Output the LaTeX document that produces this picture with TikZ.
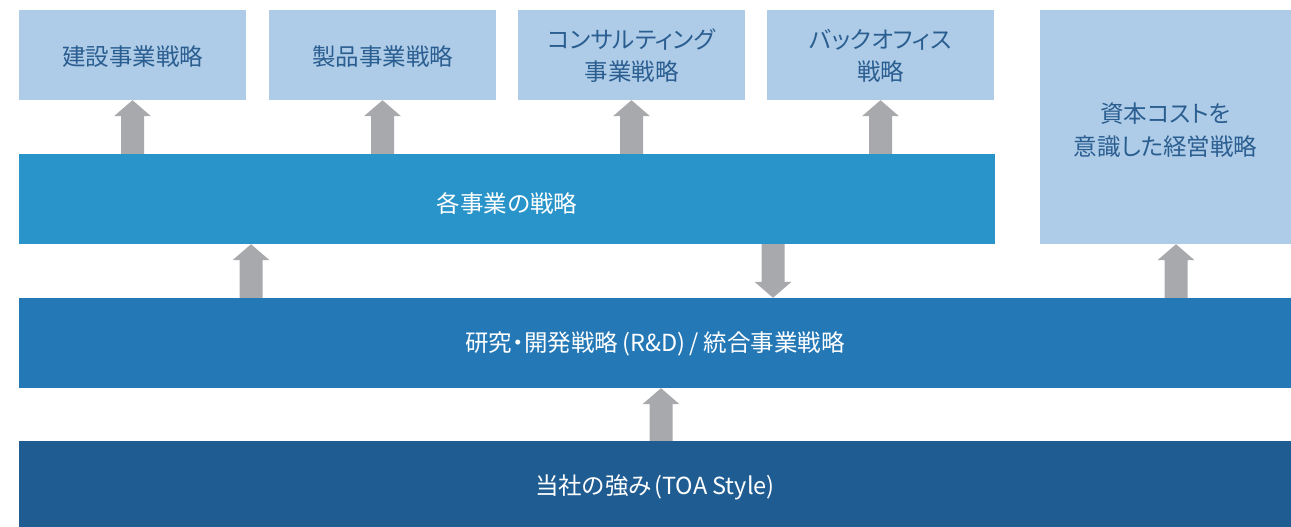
\documentclass[tikz,border=0pt]{standalone}
\usepackage{fontspec}
\setmainfont{Noto Sans CJK JP}[RawFeature=+palt]
\usetikzlibrary{calc}
\definecolor{lightbox}{HTML}{AECCE8}
\definecolor{boxtext}{HTML}{2B5E90}
\definecolor{barA}{HTML}{2894C9}
\definecolor{barB}{HTML}{2478B6}
\definecolor{barC}{HTML}{1F5C92}
\definecolor{arrgray}{HTML}{A8A9AD}
\tikzset{
  lbox/.style={rectangle, fill=lightbox, inner sep=0pt, minimum width=227pt, minimum height=90pt},
  bar/.style={rectangle, inner sep=0pt, minimum height=90pt},
  ltext/.style={text=boxtext, inner sep=0pt, align=center, font=\fontsize{23.5}{32}\selectfont},
  wtext/.style={text=white, inner sep=0pt, align=center, font=\fontsize{23.5}{32}\selectfont},
  arrowfill/.style={fill=arrgray}
}
\newcommand\arrowup[3]{%
  \fill[arrowfill] let \p1=(#2.north), \p2=(#3.south) in
    (#1pt-11.5pt,\y1) -- (#1pt-11.5pt,\y2-16pt) -- (#1pt-18.5pt,\y2-16pt) -- (#1pt,\y2)
    -- (#1pt+18.5pt,\y2-16pt) -- (#1pt+11.5pt,\y2-16pt) -- (#1pt+11.5pt,\y1) -- cycle;}
\newcommand\arrowdown[3]{%
  \fill[arrowfill] let \p1=(#2.south), \p2=(#3.north) in
    (#1pt-11.5pt,\y1) -- (#1pt-11.5pt,\y2+16pt) -- (#1pt-18.5pt,\y2+16pt) -- (#1pt,\y2)
    -- (#1pt+18.5pt,\y2+16pt) -- (#1pt+11.5pt,\y2+16pt) -- (#1pt+11.5pt,\y1) -- cycle;}
\begin{document}
\begin{tikzpicture}[x=1pt,y=-1pt]
\useasboundingbox (0,0) rectangle (1291,527);
% top boxes
\node[lbox, label={[name=b1t, ltext, yshift=-2pt]center:建設事業戦略}] (b1) at (132.5,55) {};
\node[lbox, label={[name=b2t, ltext, yshift=-2pt]center:製品事業戦略}] (b2) at (382.5,55) {};
\node[lbox, label={[name=b3t, ltext, yshift=-1pt]center:コンサルティング\\事業戦略}] (b3) at (631.5,55) {};
\node[lbox, label={[name=b4t, ltext, yshift=-1pt]center:バックオフィス\\戦略}] (b4) at (880.5,55) {};
\node[lbox, minimum width=251pt, minimum height=234pt,
  label={[name=capt, ltext, font=\fontsize{23.5}{33.5}\selectfont, yshift=-3pt]center:資本コストを\\意識した経営戦略}] (cap) at (1165.5,127) {};
% bars
\node[bar, fill=barA, minimum width=976pt, label={[name=eacht, wtext, yshift=-4.5pt]center:各事業の戦略}] (each) at (507,199) {};
\node[bar, fill=barB, minimum width=1272pt, label={[name=rdt, wtext, yshift=-1pt]center:研究・開発戦略\hspace{4pt}(R\&D)\hspace{4pt}/ 統合事業戦略}] (rd) at (655,343) {};
\node[bar, fill=barC, minimum width=1272pt, minimum height=86pt, label={[name=toat, wtext, yshift=-3pt]center:当社の強み\hspace{3pt}(TOA Style)}] (toa) at (655,484) {};
% arrows
\arrowup{132.5}{each}{b1}
\arrowup{382.5}{each}{b2}
\arrowup{631.5}{each}{b3}
\arrowup{880.5}{each}{b4}
\arrowup{251}{rd}{each}
\arrowdown{773}{each}{rd}
\arrowup{1176}{rd}{cap}
\arrowup{661}{toa}{rd}
\end{tikzpicture}
\end{document}
